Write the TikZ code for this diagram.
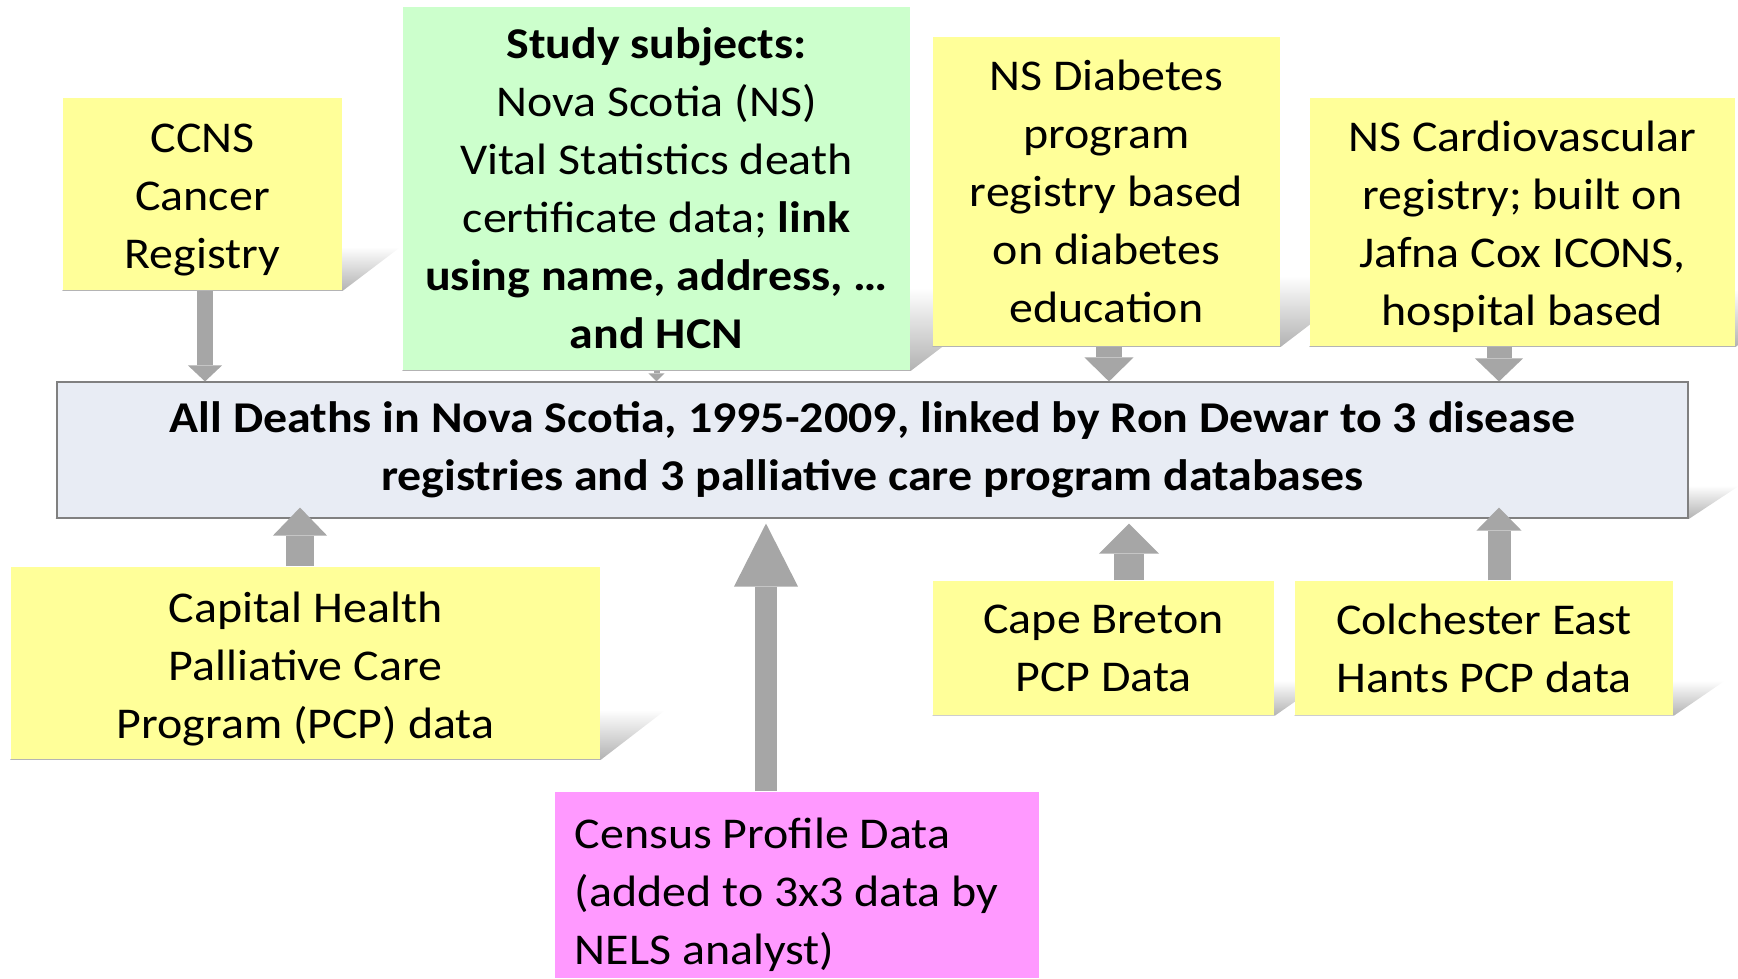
\documentclass[tikz,border=0pt]{standalone}
\usepackage{fontspec}
\setmainfont{Carlito}[FakeStretch=1.09]
\usetikzlibrary{arrows.meta,calc}
\definecolor{noteYellow}{RGB}{255,255,153}
\definecolor{noteGreen}{RGB}{204,255,204}
\definecolor{notePink}{RGB}{255,153,255}
\definecolor{mainFill}{RGB}{232,236,244}
\definecolor{mainLine}{RGB}{128,128,128}
\definecolor{arrowGray}{RGB}{166,166,166}
\pgfdeclarelayer{background}
\pgfsetlayers{background,main}
\newcommand{\boxShadow}[3] {
    \shade[top color=white, bottom color=black!30]
        (#1.south west) -- (#1.south east) -- ++(#2,-#3)
        -- ($(#1.south west)+(#2,-#3)$) -- cycle;
}
\newcommand{\feedArrow}[5] {
    \draw[arrowGray, line width=#3,
        -{Triangle[width=#4,length=#5,line width=0pt]}] #1 -- #2;
}
\newcommand{\topPad}[1]{\rule{0pt}{#1}}
\tikzset{
    note/.style={fill=noteYellow, inner sep=0pt, align=center,
        font=\fontsize{12.5}{16.5}\selectfont},
}

\begin{document}
\begin{tikzpicture}[x=0.01cm, y=-0.01cm]
    \useasboundingbox (0,0) rectangle (1738,979);
    % central box
    \node[note, fill=mainFill, draw=mainLine, line width=0.02cm,
        minimum width=16.31cm, minimum height=1.35cm,
        font=\fontsize{12.5}{16.5}\selectfont\bfseries]
        (main) at (872.5,450)
        {All Deaths in Nova Scotia, 1995-2009, linked by Ron Dewar to 3 disease\\
         registries and 3 palliative care program databases};
    % sources above
    \node[note, minimum width=2.79cm, minimum height=1.92cm]
        (ccns) at (202.5,194) {\topPad{0.40cm}CCNS\\Cancer\\Registry};
    \node[note, fill=noteGreen, minimum width=5.07cm, minimum height=3.63cm]
        (study) at (656.5,188.5)
        {\textbf{Study subjects:}\\Nova Scotia (NS)\\Vital Statistics death\\
         certificate data; \textbf{link}\\\textbf{using name, address, …}\\
         \textbf{and HCN}};
    \node[note, minimum width=3.47cm, minimum height=3.09cm]
        (diab) at (1106.5,191.5)
        {NS Diabetes\\program\\registry based\\on diabetes\\education};
    \node[note, minimum width=4.25cm, minimum height=2.48cm]
        (cardio) at (1522.5,222)
        {\topPad{0.40cm}NS Cardiovascular\\registry; built on\\Jafna Cox ICONS,\\hospital based};
    % sources below
    \node[note, minimum width=5.89cm, minimum height=1.92cm]
        (capital) at (305.5,663)
        {\topPad{0.42cm}Capital Health\\Palliative Care\\Program (PCP) data};
    \node[note, fill=notePink, align=flush left, text width=4.44cm,
        inner xsep=0.2cm, minimum height=1.86cm]
        (census) at (797,885)
        {\topPad{0.50cm}Census Profile Data\\(added to 3x3 data by\\NELS analyst)};
    \node[note, minimum width=3.41cm, minimum height=1.34cm]
        (cape) at (1103.5,648) {Cape Breton\\PCP Data};
    \node[note, minimum width=3.78cm, minimum height=1.34cm]
        (colch) at (1484,648) {Colchester East\\Hants PCP data};

    \begin{pgfonlayer}{background}
        \boxShadow{ccns}{58}{44}
        \boxShadow{study}{109}{83}
        \boxShadow{diab}{93}{71}
        \boxShadow{cardio}{74}{57}
        \boxShadow{main}{50}{33}
        \boxShadow{capital}{65}{50}
        \boxShadow{cape}{50}{35}
        \boxShadow{colch}{51}{35}
    \end{pgfonlayer}

    % links into the central box
    \feedArrow{($(ccns.south)+(2.5,0)$)}{($(ccns.south |- main.north)+(2.5,0)$)}{0.16cm}{0.34cm}{0.16cm}
    \feedArrow{(study.south)}{(study.south |- main.north)}{0.06cm}{0.16cm}{0.08cm}
    \feedArrow{($(diab.south)+(2.5,0)$)}{($(diab.south |- main.north)+(2.5,0)$)}{0.26cm}{0.49cm}{0.24cm}
    \feedArrow{($(cardio.south)+(-23.5,0)$)}{($(cardio.south |- main.north)+(-23.5,0)$)}{0.25cm}{0.48cm}{0.23cm}
    \feedArrow{($(capital.north)+(-5.5,0)$)}{($(capital.north |- main.south)+(-5.5,-11)$)}{0.27cm}{0.54cm}{0.28cm}
    \feedArrow{($(census.north)+(-31,0)$)}{($(census.north |- main.south)+(-31,5)$)}{0.21cm}{0.64cm}{0.63cm}
    \feedArrow{($(cape.north)+(25.5,0)$)}{($(cape.north |- main.south)+(25.5,5)$)}{0.30cm}{0.60cm}{0.30cm}
    \feedArrow{($(colch.north)+(15,0)$)}{($(colch.north |- main.south)+(15,-11)$)}{0.23cm}{0.45cm}{0.23cm}
\end{tikzpicture}
\end{document}
